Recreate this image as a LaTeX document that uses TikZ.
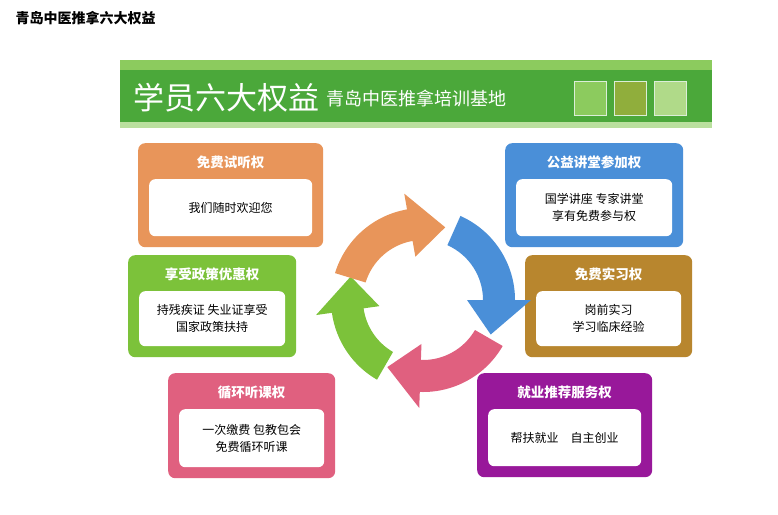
\documentclass[tikz,border=0pt]{standalone}
\usepackage{fontspec}
\setmainfont{Noto Sans CJK SC}
\usetikzlibrary{positioning}
\definecolor{cOrange}{HTML}{E8955A}
\definecolor{cGreen}{HTML}{7CC23A}
\definecolor{cPink}{HTML}{E0607F}
\definecolor{cBlue}{HTML}{4A8FD8}
\definecolor{cBrown}{HTML}{B8862E}
\definecolor{cPurple}{HTML}{98189A}
\definecolor{cBanner}{HTML}{4BA83A}
\definecolor{cBannerLt}{HTML}{8CCB5E}
\tikzset{
  outerbox/.style={rounded corners=7pt, inner sep=0pt},
  innerbox/.style={fill=white, rounded corners=6pt, inner sep=0pt, align=center, font=\fontsize{12}{17}\selectfont},
  boxtitle/.style={text=white, font=\fontsize{13.5}{16}\selectfont\bfseries},
  ringarrow/.style={line join=round}
}
% name, x1, y1, x2, y2, colour, title, body
\newcommand{\rightsbox}[8]{
  \node[outerbox, fill=#6, minimum width={#4-#2}, minimum height={#5-#3}, anchor=north west]
    (#1) at (#2,#3) {};
  \node[boxtitle, below=9pt of #1.north] (#1t) {#7};
  \node[innerbox, minimum width={#4-#2-22}, minimum height={#5-#3-47}, anchor=south]
    (#1b) at ([yshift=11]#1.south) {#8};
}
% colour, start, end, tip
\newcommand{\ringarrow}[4]{
  \fill[#1, ringarrow] (#2:92) arc[start angle=#2, end angle=#3, radius=92]
    -- (#3:108) -- (#4:76) -- (#3:44) -- (#3:60)
    arc[start angle=#3, end angle=#2, radius=60] -- cycle;
}
\begin{document}
\begin{tikzpicture}[x=1pt, y=-1pt]
  \useasboundingbox (0,0) rectangle (778,514);
  \fill[white] (0,0) rectangle (778,514);

  % page title
  \node[anchor=west, font=\fontsize{14}{16}\selectfont\bfseries] (title) at (12,18) {青岛中医推拿六大权益};

  % banner
  \fill[cBannerLt] (120,60) rectangle (712,72);
  \node[fill=cBanner, minimum width=592, minimum height=52, anchor=north west, inner sep=0pt]
    (banner) at (120,70) {};
  \fill[cBannerLt!60] (120,122) rectangle (712,128);
  \node[anchor=west, text=white, font=\fontsize{31}{34}\selectfont] (bigt) at (130,98) {学员六大权益};
  \node[anchor=west, text=white, font=\fontsize{18}{20}\selectfont] (subt) at (bigt.east) {青岛中医推拿培训基地};
  \foreach \px/\pc in {574/cBannerLt, 614/cGreen!70!brown, 654/cGreen!60} {
    \node[fill=\pc, draw=white!80!cBanner, minimum width=32, minimum height=34, inner sep=0pt]
      at (\px+16,98) {};
  }

  % six rights
  \rightsbox{try}{138}{143}{323}{247}{cOrange}{免费试听权}{我们随时欢迎您}
  \rightsbox{policy}{128}{255}{296}{357}{cGreen}{享受政策优惠权}{持残疾证 失业证享受\\国家政策扶持}
  \rightsbox{loop}{168}{373}{335}{478}{cPink}{循环听课权}{一次缴费 包教包会\\免费循环听课}
  \rightsbox{lecture}{505}{143}{683}{247}{cBlue}{公益讲堂参加权}{国学讲座 专家讲堂\\享有免费参与权}
  \rightsbox{intern}{525}{255}{692}{357}{cBrown}{免费实习权}{岗前实习\\学习临床经验}
  \rightsbox{job}{477}{373}{652}{477}{cPurple}{就业推荐服务权}{帮扶就业\quad 自主创业}

  % cycle
  \begin{scope}[shift={(423,300)}]
    \ringarrow{cGreen}{120}{172}{198}
    \ringarrow{cOrange}{-163}{-100}{-73}
    \ringarrow{cBlue}{-66}{0}{27}
    \ringarrow{cPink}{30}{92}{118}
  \end{scope}
\end{tikzpicture}
\end{document}
